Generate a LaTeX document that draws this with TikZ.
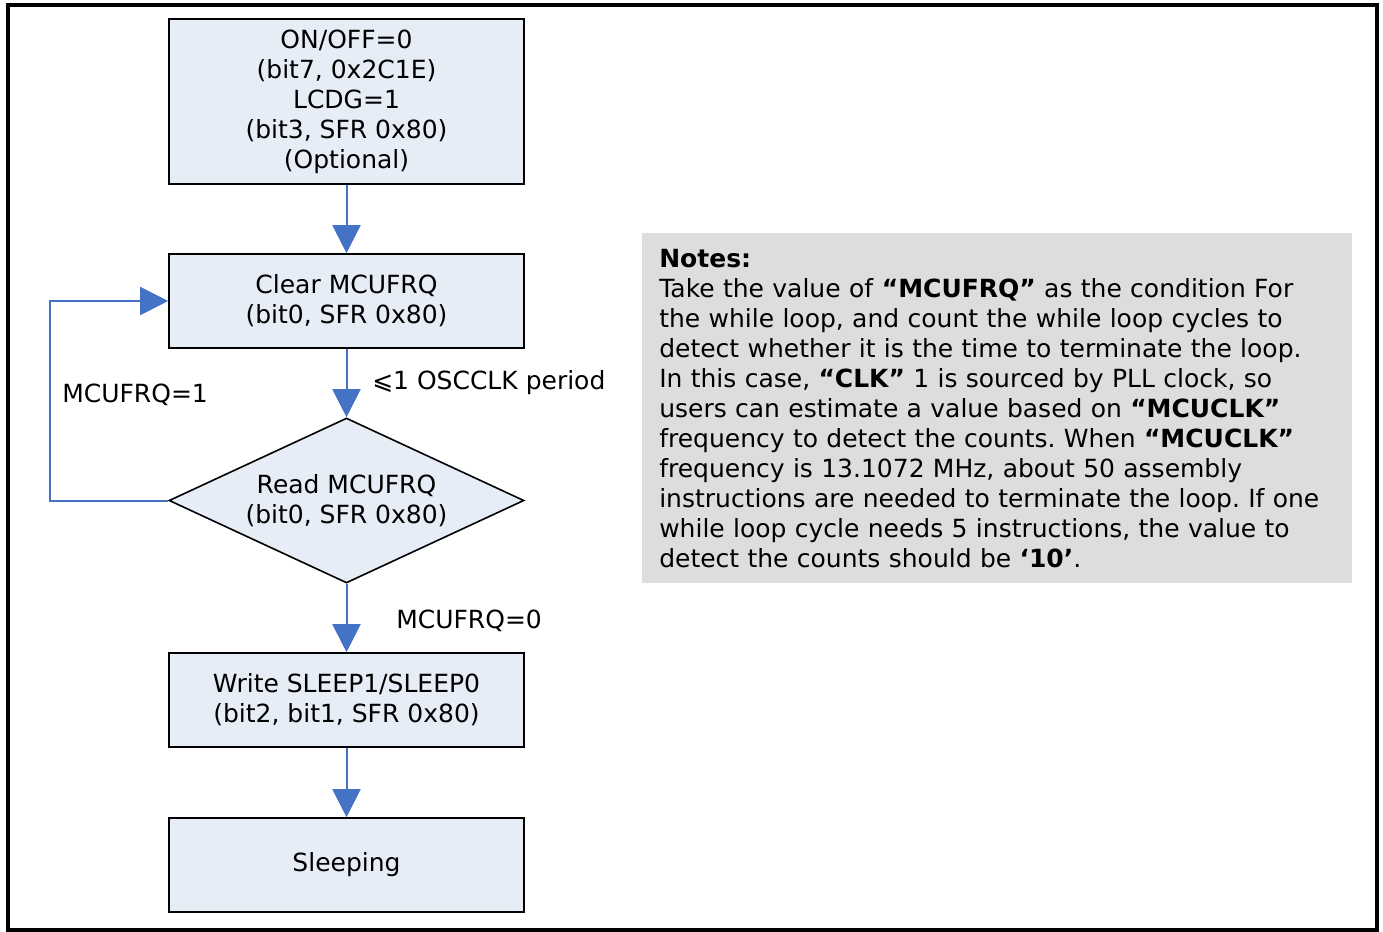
\documentclass[tikz,border=0pt]{standalone}
\usepackage{fontspec}
\setmainfont{DejaVu Sans}
\usepackage{xcolor}
\usetikzlibrary{arrows.meta,shapes.geometric}
\definecolor{boxfill}{HTML}{E6EDF7}
\definecolor{flowblue}{HTML}{4472C4}
\definecolor{notegray}{HTML}{DDDDDD}

\tikzset{
	stepbox/.style={draw=black, line width=1.2pt, fill=boxfill, inner sep=0pt,
		minimum width=266.25pt, minimum height=70.5pt, align=center},
	decision/.style={diamond, draw=black, line width=1.2pt, fill=boxfill, inner sep=0pt,
		shape aspect=2.15, minimum width=266.25pt, minimum height=123.75pt, align=center},
	flow/.style={color=flowblue, line width=1.5pt, -{Triangle[width=21pt,length=21pt]}},
	lbl/.style={anchor=west, inner sep=0pt},
}

\begin{document}
\frenchspacing
\begin{tikzpicture}[x=0.75pt, y=-0.75pt, font=\fontsize{18.75}{22.5}\selectfont]
		\useasboundingbox (0,0) rectangle (1383,931);
		\draw[line width=3pt] (8,5.5) rectangle (1377,929.5);
		% flow chart
		\node[stepbox, minimum height=123.75pt] (onoff) at (346.5,101.5) {ON/OFF=0\\(bit7, 0x2C1E)\\LCDG=1\\(bit3, SFR 0x80)\\(Optional)};
		\node[stepbox] (clr) at (346.5,301) {Clear MCUFRQ\\(bit0, SFR 0x80)};
		\node[decision] (rd) at (346.5,500.5) {Read MCUFRQ\\(bit0, SFR 0x80)};
		\node[stepbox] (wr) at (346.5,700) {Write SLEEP1/SLEEP0\\(bit2, bit1, SFR 0x80)};
		\node[stepbox] (slp) at (346.5,865) {Sleeping};
		\coordinate (loop) at (50,500.5);
		\draw[flow] (onoff) -- (clr);
		\draw[flow] (clr) -- (rd);
		\draw[flow] (rd) -- (wr);
		\draw[flow] (wr) -- (slp);
		\draw[flow] (rd.west) -- (loop) |- (clr.west);
		\node[lbl] (osc) at (372,383) {⩽1 OSCCLK period};
		\node[lbl] (one) at (62,395) {MCUFRQ=1};
		\node[lbl] (zero) at (396,621) {MCUFRQ=0};
		% notes
		\node[fill=notegray, anchor=north west, minimum width=532.5pt, minimum height=262.5pt,
			text width=507pt, inner xsep=12.75pt, align=left] (notes) at (642,233)
			{\textbf{Notes:}\\
			Take the value of \textbf{“MCUFRQ”} as the condition For\\
			the while loop, and count the while loop cycles to\\
			detect whether it is the time to terminate the loop.\\
			In this case, \textbf{“CLK”} 1 is sourced by PLL clock, so\\
			users can estimate a value based on \textbf{“MCUCLK”}\\
			frequency to detect the counts. When \textbf{“MCUCLK”}\\
			frequency is 13.1072 MHz, about 50 assembly\\
			instructions are needed to terminate the loop. If one\\
			while loop cycle needs 5 instructions, the value to\\
			detect the counts should be \textbf{‘10’}.};
	\end{tikzpicture}
\end{document}
